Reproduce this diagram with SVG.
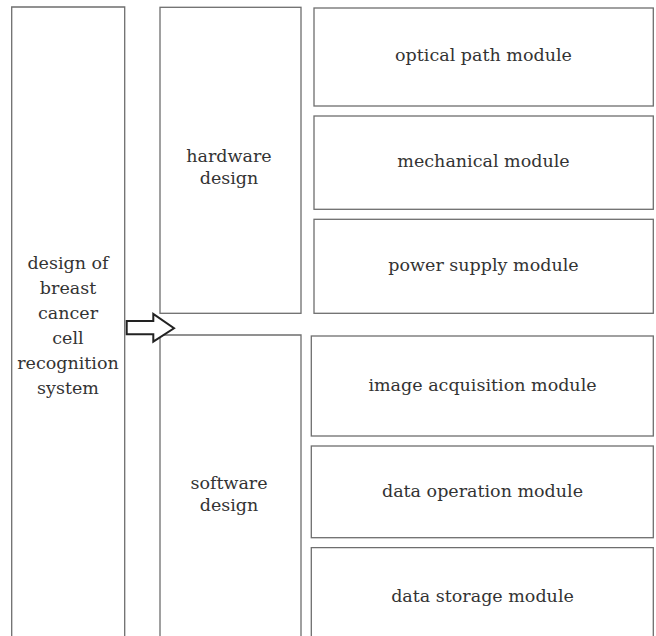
<svg xmlns="http://www.w3.org/2000/svg" width="656" height="636" viewBox="0 0 656 636">
<style>
.box{fill:#fff;stroke:#6e6e6e;stroke-width:1.3}
.t{font-family:"DejaVu Serif","Liberation Serif",serif;font-size:17.5px;fill:#333;text-anchor:middle}
</style>
<rect width="656" height="636" fill="#fff"/>
<g id="system">
<path class="box" d="M11.7,640 V7 H124.7 V640"/>
<text class="t" x="68" y="269">design of</text>
<text class="t" x="68" y="294">breast</text>
<text class="t" x="68" y="319">cancer</text>
<text class="t" x="68" y="344">cell</text>
<text class="t" x="68" y="369">recognition</text>
<text class="t" x="68" y="394">system</text>
</g>
<g id="hardware">
<rect class="box" x="160" y="7.3" width="141" height="306"/>
<text class="t" x="229" y="162">hardware</text>
<text class="t" x="229" y="184">design</text>
</g>
<g id="software">
<path class="box" d="M160,640 V335 H301 V640"/>
<text class="t" x="229" y="489">software</text>
<text class="t" x="229" y="511">design</text>
</g>
<g id="optical">
<rect class="box" x="314" y="8" width="339.3" height="98"/>
<text class="t" x="483.5" y="61">optical path module</text>
</g>
<g id="mechanical">
<rect class="box" x="314" y="116" width="339.3" height="93.3"/>
<text class="t" x="483.5" y="167">mechanical module</text>
</g>
<g id="power">
<rect class="box" x="314" y="219.3" width="339.3" height="94"/>
<text class="t" x="483.5" y="271">power supply module</text>
</g>
<g id="acquisition">
<rect class="box" x="311.3" y="336" width="342" height="100"/>
<text class="t" x="482.5" y="391">image acquisition module</text>
</g>
<g id="operation">
<rect class="box" x="311.3" y="446" width="342" height="91.7"/>
<text class="t" x="482.5" y="497">data operation module</text>
</g>
<g id="storage">
<path class="box" d="M311.3,640 V547.7 H653.3 V640"/>
<text class="t" x="482.5" y="602">data storage module</text>
</g>
<g id="connectors">
<path d="M126.7,321 H153.3 V314 L174,328.3 L153.3,341.7 V334.3 H126.7 Z" fill="#fff" stroke="#222" stroke-width="2" stroke-linejoin="miter"/>
</g>
</svg>
